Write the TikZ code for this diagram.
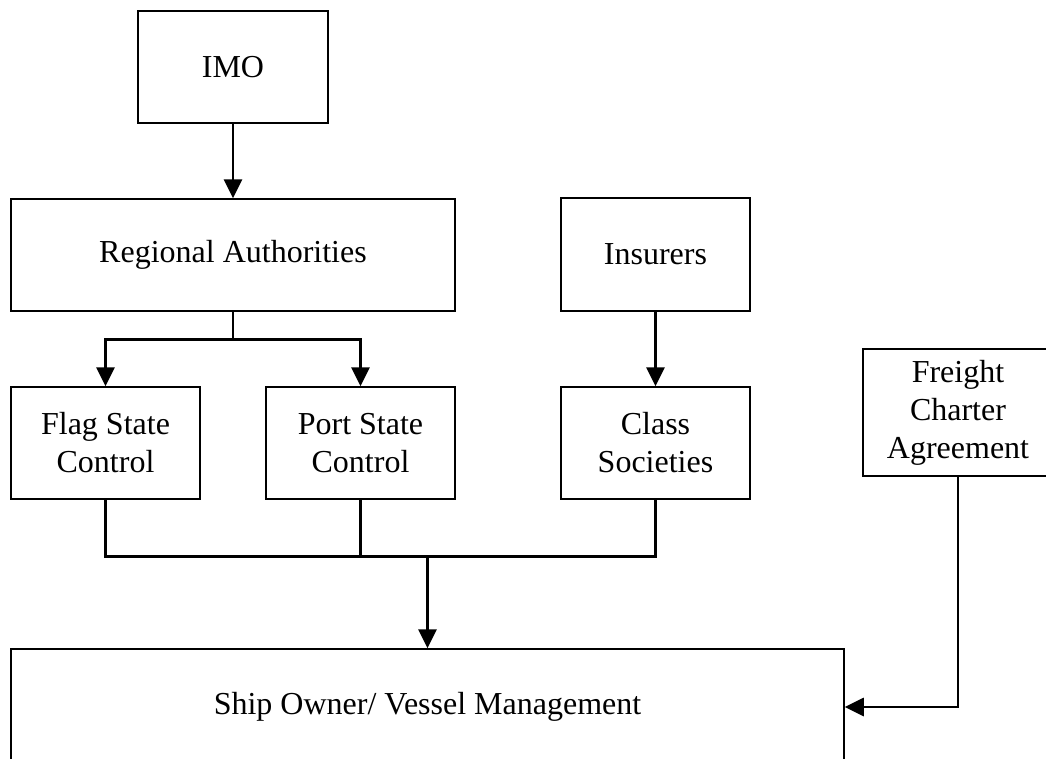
\documentclass[tikz,border=0pt]{standalone}
\usepackage{fontspec}
\setmainfont{Liberation Serif}
\usetikzlibrary{arrows.meta,calc}
\begin{document}
\begin{tikzpicture}[x=1pt,y=-1pt,
  box/.style={draw, line width=1.5pt, inner sep=0pt, align=center,
              font=\fontsize{32}{38}\selectfont},
  link/.style={line width=2.8pt},
  arr/.style={link, -{Triangle[length=19pt,width=18pt]}}]
\useasboundingbox (0,0) rectangle (1046,758);
\clip (0,0) rectangle (1046,758);

% organisations
\node[box, minimum width=190pt, minimum height=112pt] (imo)  at (233,67)    {IMO};
\node[box, minimum width=444pt, minimum height=112pt] (reg)  at (233,255)   {Regional Authorities};
\node[box, minimum width=189pt, minimum height=113pt] (ins)  at (655.5,254.5) {Insurers};
\node[box, minimum width=189pt, minimum height=112pt] (flag) at (105.5,443) {Flag State\\Control};
\node[box, minimum width=189pt, minimum height=112pt] (port) at (360.5,443) {Port State\\Control};
\node[box, minimum width=189pt, minimum height=112pt] (cls)  at (655.5,443) {Class\\Societies};
\node[box, minimum width=190pt, minimum height=127pt] (frt)  at (958,412.5) {Freight\\Charter\\Agreement};
\node[box, minimum width=833pt, minimum height=116pt] (ship) at (427.5,707) {Ship Owner/ Vessel Management};

% connectors
\draw[arr] (imo) -- (reg);
\draw[arr] (ins) -- (cls);

\coordinate (rs) at ($(reg.south)+(0,28)$);
\draw[link] (reg.south) -- (rs);
\draw[arr] (rs) -| (flag.north);
\draw[arr] (rs) -| (port.north);

\draw[link] (flag.south) -- ++(0,57) coordinate (fl) -| (cls.south);
\draw[link] (port.south) -- (port.south |- fl);
\draw[arr] (ship.north |- fl) -- (ship.north);

\draw[arr] (frt.south) |- (ship.east);
\end{tikzpicture}
\end{document}
